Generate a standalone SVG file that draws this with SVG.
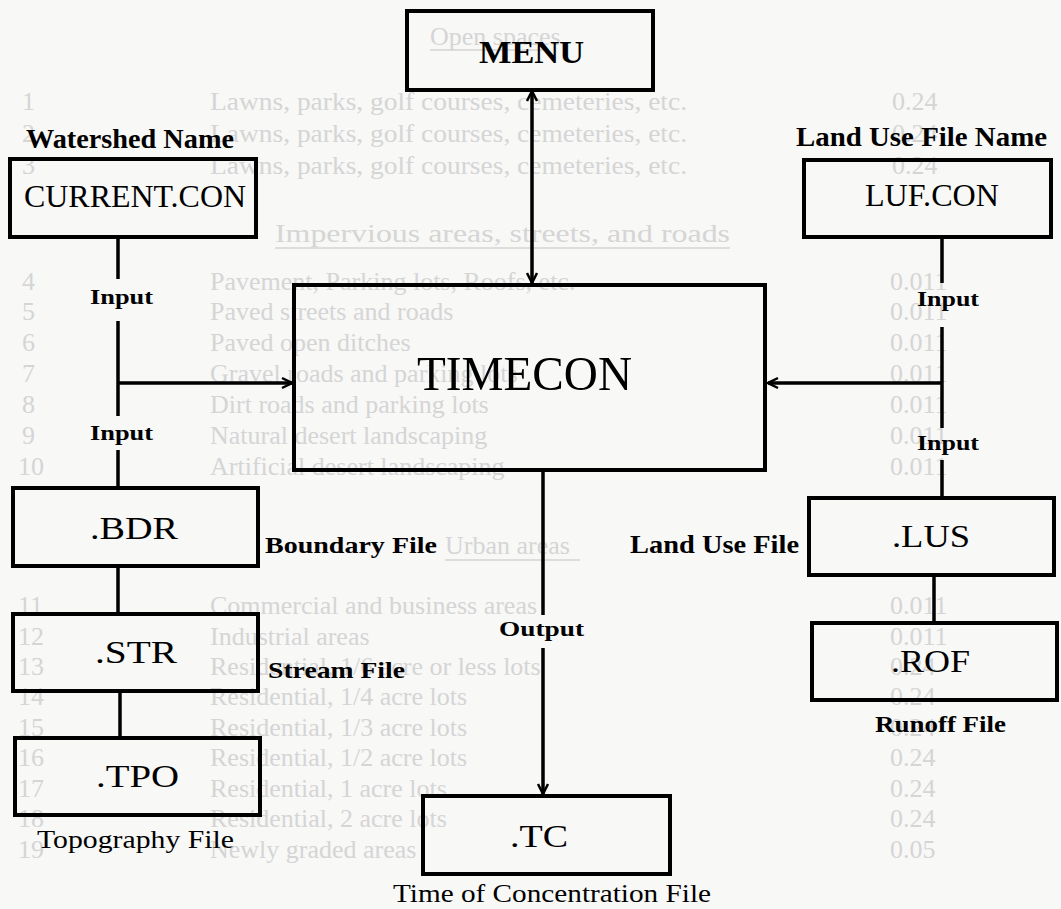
<svg xmlns="http://www.w3.org/2000/svg" width="1061" height="909" viewBox="0 0 1061 909">
<defs>
<style>
.bg{fill:#f8f8f7}
.faint{font-family:"Liberation Serif",serif;font-size:26px;fill:#d5d5d5}
.fl{stroke:#d5d5d5;stroke-width:1.5}
.box{fill:none;stroke:#000;stroke-width:4}
.con{fill:none;stroke:#000;stroke-width:3.5}
.t{font-family:"Liberation Serif",serif;fill:#000}
.lbl{font-family:"Liberation Serif",serif;fill:#000;font-weight:bold}
.lblr{font-family:"Liberation Serif",serif;fill:#000}
</style>
<marker id="arr" markerUnits="userSpaceOnUse" markerWidth="14" markerHeight="14" viewBox="0 0 14 14" refX="12" refY="7" orient="auto-start-reverse">
<path d="M2,2 L12,7 L2,12" fill="none" stroke="#000" stroke-width="2.5"/>
</marker>
</defs>
<rect class="bg" x="0" y="0" width="1061" height="909"/>

<g id="bleed-through">
<text class="faint" x="430" y="45">Open spaces</text>
<line class="fl" x1="430" y1="50" x2="545" y2="50"/>
<text class="faint" x="22" y="110">1</text><text class="faint" x="210" y="110" textLength="477" lengthAdjust="spacingAndGlyphs">Lawns, parks, golf courses, cemeteries, etc.</text><text class="faint" x="892" y="110">0.24</text>
<text class="faint" x="22" y="142">2</text><text class="faint" x="210" y="142" textLength="477" lengthAdjust="spacingAndGlyphs">Lawns, parks, golf courses, cemeteries, etc.</text><text class="faint" x="892" y="142">0.24</text>
<text class="faint" x="22" y="174">3</text><text class="faint" x="210" y="174" textLength="477" lengthAdjust="spacingAndGlyphs">Lawns, parks, golf courses, cemeteries, etc.</text><text class="faint" x="892" y="174">0.24</text>
<text class="faint" x="275" y="242" textLength="455" lengthAdjust="spacingAndGlyphs">Impervious areas, streets, and roads</text>
<line class="fl" x1="275" y1="248" x2="730" y2="248"/>
<text class="faint" x="22" y="290">4</text><text class="faint" x="210" y="290">Pavement, Parking lots, Roofs, etc.</text><text class="faint" x="890" y="290">0.011</text>
<text class="faint" x="22" y="320">5</text><text class="faint" x="210" y="320">Paved streets and roads</text><text class="faint" x="890" y="320">0.011</text>
<text class="faint" x="22" y="351">6</text><text class="faint" x="210" y="351">Paved open ditches</text><text class="faint" x="890" y="351">0.011</text>
<text class="faint" x="22" y="382">7</text><text class="faint" x="210" y="382">Gravel roads and parking lots</text><text class="faint" x="890" y="382">0.011</text>
<text class="faint" x="22" y="413">8</text><text class="faint" x="210" y="413">Dirt roads and parking lots</text><text class="faint" x="890" y="413">0.011</text>
<text class="faint" x="22" y="444">9</text><text class="faint" x="210" y="444">Natural desert landscaping</text><text class="faint" x="890" y="444">0.011</text>
<text class="faint" x="18" y="475">10</text><text class="faint" x="210" y="475">Artificial desert landscaping</text><text class="faint" x="890" y="475">0.011</text>
<text class="faint" x="445" y="554">Urban areas</text>
<line class="fl" x1="445" y1="560" x2="580" y2="560"/>
<text class="faint" x="18" y="614">11</text><text class="faint" x="210" y="614">Commercial and business areas</text><text class="faint" x="890" y="614">0.011</text>
<text class="faint" x="18" y="645">12</text><text class="faint" x="210" y="645">Industrial areas</text><text class="faint" x="890" y="645">0.011</text>
<text class="faint" x="18" y="675">13</text><text class="faint" x="210" y="675">Residential, 1/6 acre or less lots</text><text class="faint" x="890" y="675">0.24</text>
<text class="faint" x="18" y="705">14</text><text class="faint" x="210" y="705">Residential, 1/4 acre lots</text><text class="faint" x="890" y="705">0.24</text>
<text class="faint" x="18" y="736">15</text><text class="faint" x="210" y="736">Residential,  1/3 acre lots</text><text class="faint" x="890" y="736">0.24</text>
<text class="faint" x="18" y="766">16</text><text class="faint" x="210" y="766">Residential, 1/2 acre lots</text><text class="faint" x="890" y="766">0.24</text>
<text class="faint" x="18" y="797">17</text><text class="faint" x="210" y="797">Residential, 1 acre lots</text><text class="faint" x="890" y="797">0.24</text>
<text class="faint" x="18" y="827">18</text><text class="faint" x="210" y="827">Residential, 2 acre lots</text><text class="faint" x="890" y="827">0.24</text>
<text class="faint" x="18" y="858">19</text><text class="faint" x="210" y="858">Newly graded areas</text><text class="faint" x="890" y="858">0.05</text>
</g>

<g id="connectors">
<line class="con" x1="532" y1="91" x2="532" y2="283" marker-start="url(#arr)" marker-end="url(#arr)"/>
<line class="con" x1="118" y1="237" x2="118" y2="279"/>
<line class="con" x1="118" y1="321" x2="118" y2="416"/>
<line class="con" x1="118" y1="450" x2="118" y2="488"/>
<line class="con" x1="118" y1="383" x2="292" y2="383" marker-end="url(#arr)"/>
<line class="con" x1="942" y1="237" x2="942" y2="283"/>
<line class="con" x1="942" y1="327" x2="942" y2="428"/>
<line class="con" x1="942" y1="460" x2="942" y2="498"/>
<line class="con" x1="942" y1="383" x2="768" y2="383" marker-end="url(#arr)"/>
<line class="con" x1="118" y1="566" x2="118" y2="614"/>
<line class="con" x1="120" y1="691" x2="120" y2="738"/>
<line class="con" x1="934" y1="575" x2="934" y2="623"/>
<line class="con" x1="543" y1="470" x2="543" y2="615"/>
<line class="con" x1="543" y1="648" x2="543" y2="794" marker-end="url(#arr)"/>
<text class="lbl" x="90" y="304" font-size="21" textLength="63" lengthAdjust="spacingAndGlyphs">Input</text>
<text class="lbl" x="90" y="440" font-size="21" textLength="63" lengthAdjust="spacingAndGlyphs">Input</text>
<text class="lbl" x="917" y="306" font-size="21" textLength="62" lengthAdjust="spacingAndGlyphs">Input</text>
<text class="lbl" x="917" y="450" font-size="21" textLength="62" lengthAdjust="spacingAndGlyphs">Input</text>
<text class="lbl" x="499" y="636" font-size="22" textLength="85" lengthAdjust="spacingAndGlyphs">Output</text>
</g>

<g id="menu">
<rect class="box" x="407" y="11" width="246" height="79"/>
<text class="t" x="479" y="63" font-size="32" font-weight="bold" textLength="105" lengthAdjust="spacingAndGlyphs">MENU</text>
</g>
<g id="current-con">
<text class="lbl" x="26" y="148" font-size="27" textLength="208" lengthAdjust="spacingAndGlyphs">Watershed Name</text>
<rect class="box" x="10" y="159" width="246" height="78"/>
<text class="t" x="24" y="207" font-size="31" textLength="222" lengthAdjust="spacingAndGlyphs">CURRENT.CON</text>
</g>
<g id="luf-con">
<text class="lbl" x="796" y="146" font-size="27" textLength="251" lengthAdjust="spacingAndGlyphs">Land Use File Name</text>
<rect class="box" x="804" y="160" width="247" height="77"/>
<text class="t" x="865" y="206" font-size="31" textLength="134" lengthAdjust="spacingAndGlyphs">LUF.CON</text>
</g>
<g id="timecon">
<rect class="box" x="294" y="285" width="471" height="185"/>
<text class="t" x="417" y="390" font-size="49" textLength="215" lengthAdjust="spacingAndGlyphs">TIMECON</text>
</g>
<g id="bdr">
<rect class="box" x="13" y="488" width="245" height="78"/>
<text class="t" x="90" y="539" font-size="32" textLength="88" lengthAdjust="spacingAndGlyphs">.BDR</text>
<text class="lbl" x="265" y="553" font-size="24" textLength="172" lengthAdjust="spacingAndGlyphs">Boundary File</text>
</g>
<g id="lus">
<rect class="box" x="809" y="498" width="245" height="77"/>
<text class="t" x="892" y="547" font-size="32" textLength="78" lengthAdjust="spacingAndGlyphs">.LUS</text>
<text class="lbl" x="630" y="553" font-size="25" textLength="169" lengthAdjust="spacingAndGlyphs">Land Use File</text>
</g>
<g id="str">
<rect class="box" x="13" y="614" width="245" height="77"/>
<text class="t" x="95" y="663" font-size="32" textLength="82" lengthAdjust="spacingAndGlyphs">.STR</text>
<text class="lbl" x="268" y="678" font-size="24" textLength="137" lengthAdjust="spacingAndGlyphs">Stream File</text>
</g>
<g id="rof">
<rect class="box" x="812" y="623" width="245" height="77"/>
<text class="t" x="891" y="672" font-size="32" textLength="79" lengthAdjust="spacingAndGlyphs">.ROF</text>
<text class="lbl" x="875" y="732" font-size="23" textLength="131" lengthAdjust="spacingAndGlyphs">Runoff File</text>
</g>
<g id="tpo">
<rect class="box" x="15" y="738" width="245" height="77"/>
<text class="t" x="96" y="787" font-size="32" textLength="83" lengthAdjust="spacingAndGlyphs">.TPO</text>
<text class="lblr" x="37" y="848" font-size="26" textLength="197" lengthAdjust="spacingAndGlyphs">Topography File</text>
</g>
<g id="tc">
<rect class="box" x="423" y="796" width="247" height="78"/>
<text class="t" x="510" y="847" font-size="32" textLength="58" lengthAdjust="spacingAndGlyphs">.TC</text>
<text class="lblr" x="393" y="902" font-size="26" textLength="318" lengthAdjust="spacingAndGlyphs">Time of Concentration File</text>
</g>
</svg>
